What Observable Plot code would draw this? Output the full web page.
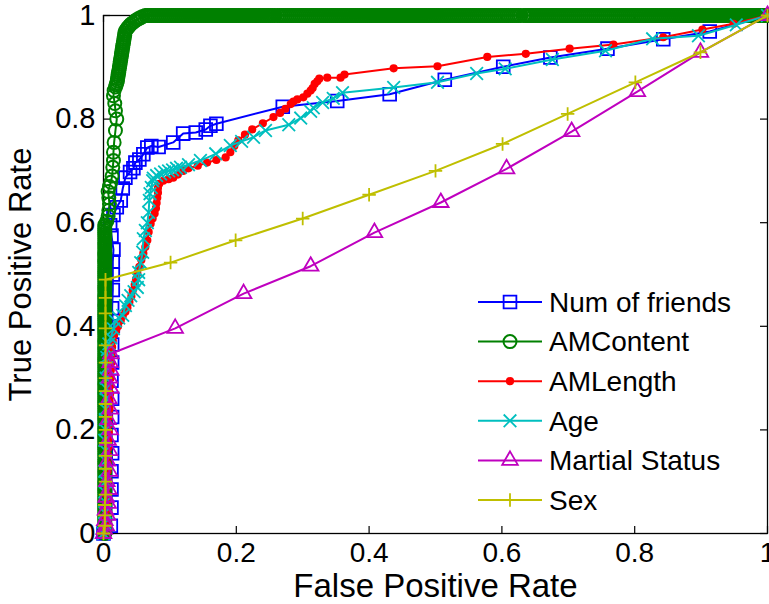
<!DOCTYPE html>
<html><head><meta charset="utf-8">
<script src="https://cdn.jsdelivr.net/npm/d3@7"></script>
<script src="https://cdn.jsdelivr.net/npm/@observablehq/plot@0.6"></script>
<style>
body{margin:0;background:#fff;}
#chart{position:relative;width:769px;height:604px;}
#chart svg text{font-family:"Liberation Sans",Arial,Helvetica,sans-serif;}
#chart g[aria-label="x-axis label"]{font-size:33px;}
#chart g[aria-label="y-axis label"]{font-size:31px;}
#chart g[aria-label="y-axis tick label"]{font-size:29px;}
#legend{position:absolute;left:470px;top:280px;}
</style></head>
<body><div id="chart"></div>
<script>
// ---- data (fpr, tpr) ----
const seriesNames = ["Num of friends","AMContent","AMLength","Age","Martial Status","Sex"];
const xTicks = [0,0.2,0.4,0.6,0.8,1];
const yTicks = [0,0.2,0.4,0.6,0.8,1];
const tickLabels = ["0","0.2","0.4","0.6","0.8","1"];
const axisTitleX = "False Positive Rate";
const axisTitleY = "True Positive Rate";

const friendsRoc = [[0,0],[0.011,0.015],[0.012,0.05],[0.012,0.085],[0.012,0.12],[0.013,0.155],[0.012,0.19],[0.013,0.225],[0.013,0.26],[0.012,0.295],[0.013,0.33],[0.013,0.365],[0.014,0.40],[0.013,0.435],[0.014,0.47],[0.014,0.50],[0.014,0.525],[0.015,0.548],[0.012,0.575],[0.01,0.595],[0.015,0.615],[0.02,0.63],[0.026,0.643],[0.029,0.666],[0.033,0.687],[0.04,0.698],[0.045,0.705],[0.048,0.716],[0.054,0.722],[0.06,0.732],[0.066,0.745],[0.072,0.748],[0.083,0.746],[0.105,0.755],[0.12,0.772],[0.139,0.774],[0.154,0.78],[0.161,0.787],[0.17,0.791],[0.27,0.824],[0.352,0.835],[0.431,0.848],[0.514,0.876],[0.602,0.901],[0.673,0.919],[0.759,0.936],[0.843,0.954],[0.913,0.969],[1,1]];

// AMContent: first vertical run (constant fpr), then the rest, then the run at tpr = 1
const amContentRunFpr = 0.002;
const amContentRunTpr = [0,0.004,0.007,0.011,0.015,0.018,0.022,0.026,0.03,0.033,0.037,0.041,0.045,0.049,0.052,0.056,0.06,0.064,0.067,0.071,0.075,0.079,0.083,0.086,0.09,0.094,0.098,0.101,0.105,0.109,0.113,0.117,0.12,0.124,0.128,0.132,0.135,0.139,0.143,0.147,0.151,0.154,0.158,0.162,0.166,0.169,0.173,0.177,0.181,0.185,0.188,0.192,0.196,0.2,0.203,0.207,0.211,0.215,0.219,0.222,0.226,0.23,0.234,0.237,0.241,0.245,0.249,0.253,0.256,0.26,0.264,0.268,0.271,0.275,0.279,0.283,0.287,0.29,0.294,0.298,0.302,0.305,0.309,0.313,0.317,0.321,0.324,0.328,0.332,0.336,0.339,0.343,0.347,0.351,0.355,0.358,0.362,0.366,0.37,0.373,0.377,0.381,0.385,0.389,0.392,0.396,0.4,0.404,0.407,0.411,0.415,0.419,0.423,0.426,0.43,0.434,0.438,0.441,0.445,0.449,0.453,0.457,0.46,0.464,0.468,0.472,0.475,0.479,0.483,0.487,0.491,0.494,0.498,0.502,0.506,0.509,0.513,0.517,0.521,0.525,0.528,0.532,0.536,0.54,0.543,0.547,0.551,0.555,0.559,0.562,0.566,0.57,0.574,0.577,0.581,0.585,0.589,0.593,0.596];
const amContentMid = [[0.005,0.603],[0.007,0.613],[0.008,0.624],[0.009,0.636],[0.008,0.648],[0.007,0.66],[0.009,0.67],[0.011,0.678],[0.013,0.69],[0.014,0.707],[0.015,0.72],[0.015,0.736],[0.016,0.755],[0.018,0.778],[0.02,0.80],[0.018,0.816],[0.017,0.83],[0.015,0.845],[0.016,0.855],[0.018,0.862],
 [0.019,0.866],[0.02,0.87],[0.021,0.874],[0.021,0.878],[0.022,0.882],[0.022,0.886],[0.023,0.89],[0.023,0.894],[0.024,0.898],[0.024,0.902],[0.025,0.906],[0.025,0.91],[0.026,0.914],[0.026,0.918],[0.027,0.922],[0.027,0.926],[0.028,0.93],[0.028,0.934],[0.029,0.938],[0.029,0.942],[0.03,0.946],[0.03,0.95],[0.031,0.954],[0.031,0.958],[0.032,0.962],[0.032,0.966],[0.033,0.97],[0.035,0.974],[0.037,0.977],[0.039,0.98],[0.041,0.983],[0.044,0.986],[0.047,0.989],[0.05,0.992],[0.053,0.994],[0.056,0.996],[0.059,0.998],[0.063,1]];
const amContentTopFpr = [0.066,0.069,0.072,0.075,0.078,0.081,0.084,0.087,0.09,0.093,0.096,0.099,0.102,0.105,0.108,0.111,0.114,0.117,0.12,0.123,0.126,0.129,0.132,0.135,0.138,0.141,0.144,0.147,0.15,0.153,0.156,0.159,0.162,0.165,0.168,0.171,0.174,0.177,0.18,0.183,0.186,0.189,0.192,0.195,0.198,0.201,0.204,0.207,0.21,0.213,0.216,0.219,0.222,0.225,0.228,0.231,0.234,0.237,0.24,0.243,0.246,0.249,0.252,0.255,0.258,0.262,0.265,0.268,0.271,0.274,0.277,0.28,0.283,0.286,0.289,0.292,0.295,0.298,0.301,0.304,0.307,0.31,0.313,0.316,0.319,0.322,0.325,0.328,0.331,0.334,0.337,0.34,0.343,0.346,0.349,0.352,0.355,0.358,0.361,0.364,0.367,0.37,0.373,0.376,0.379,0.382,0.385,0.388,0.391,0.394,0.397,0.4,0.403,0.406,0.409,0.412,0.415,0.418,0.421,0.424,0.427,0.43,0.433,0.436,0.439,0.442,0.445,0.448,0.451,0.454,0.457,0.46,0.463,0.466,0.469,0.472,0.475,0.478,0.481,0.484,0.487,0.49,0.493,0.496,0.499,0.502,0.505,0.508,0.511,0.514,0.517,0.52,0.523,0.526,0.529,0.532,0.535,0.538,0.541,0.544,0.547,0.55,0.553,0.556,0.559,0.562,0.565,0.568,0.571,0.574,0.577,0.58,0.583,0.586,0.589,0.592,0.595,0.598,0.601,0.604,0.607,0.61,0.613,0.616,0.619,0.622,0.625,0.628,0.633,0.636,0.639,0.642,0.645,0.648,0.651,0.654,0.657,0.66,0.663,0.666,0.669,0.672,0.675,0.678,0.681,0.684,0.687,0.69,0.693,0.696,0.699,0.702,0.705,0.708,0.711,0.714,0.717,0.72,0.723,0.726,0.729,0.732,0.735,0.738,0.741,0.744,0.747,0.75,0.753,0.756,0.759,0.762,0.765,0.768,0.771,0.774,0.777,0.78,0.783,0.786,0.789,0.792,0.795,0.798,0.801,0.804,0.807,0.81,0.813,0.816,0.819,0.822,0.825,0.828,0.831,0.834,0.837,0.84,0.843,0.846,0.849,0.852,0.855,0.858,0.861,0.864,0.867,0.87,0.873,0.876,0.879,0.882,0.885,0.888,0.891,0.894,0.897,0.9,0.903,0.906,0.909,0.912,0.915,0.918,0.921,0.924,0.927,0.93,0.933,0.936,0.939,0.942,0.945,0.948,0.951,0.954,0.957,0.96,0.963,0.966,0.969,0.972,0.975,0.978,0.981,0.984,0.987,0.99,0.993,0.996,1];

const amLengthRoc = [[0,0],[0.003,0.015],[0.004,0.03],[0.004,0.045],[0.005,0.06],[0.005,0.075],[0.005,0.09],[0.006,0.105],[0.006,0.12],[0.006,0.135],[0.007,0.15],[0.007,0.165],[0.007,0.18],[0.008,0.195],[0.008,0.21],[0.008,0.225],[0.009,0.24],[0.009,0.255],[0.01,0.27],[0.01,0.285],[0.011,0.3],[0.011,0.315],[0.012,0.33],[0.012,0.345],[0.013,0.36],[0.014,0.372],[0.016,0.383],[0.019,0.392],[0.022,0.40],[0.026,0.411],[0.029,0.42],[0.033,0.428],[0.036,0.436],[0.039,0.447],[0.042,0.458],[0.044,0.469],[0.047,0.48],[0.049,0.491],[0.051,0.502],[0.054,0.515],[0.057,0.528],[0.06,0.541],[0.063,0.553],[0.066,0.566],[0.068,0.582],[0.071,0.598],[0.074,0.608],[0.077,0.618],[0.079,0.628],[0.08,0.638],[0.081,0.648],[0.082,0.658],[0.082,0.667],[0.084,0.675],[0.09,0.681],[0.098,0.684],[0.105,0.687],[0.112,0.693],[0.12,0.70],[0.128,0.705],[0.142,0.71],[0.156,0.716],[0.17,0.721],[0.184,0.726],[0.191,0.736],[0.197,0.748],[0.203,0.759],[0.213,0.77],[0.224,0.78],[0.24,0.792],[0.256,0.804],[0.266,0.812],[0.274,0.82],[0.282,0.829],[0.286,0.834],[0.292,0.838],[0.301,0.842],[0.307,0.849],[0.312,0.855],[0.315,0.86],[0.318,0.868],[0.322,0.873],[0.325,0.878],[0.337,0.88],[0.357,0.88],[0.363,0.886],[0.437,0.898],[0.503,0.902],[0.578,0.92],[0.636,0.926],[0.702,0.936],[0.768,0.944],[0.843,0.958],[0.902,0.973],[0.949,0.984],[1,1]];

const ageRoc = [[0,0],[0.002,0.02],[0.002,0.04],[0.003,0.06],[0.002,0.08],[0.003,0.1],[0.002,0.12],[0.003,0.14],[0.003,0.16],[0.002,0.18],[0.003,0.2],[0.003,0.22],[0.003,0.24],[0.004,0.26],[0.004,0.28],[0.004,0.3],[0.005,0.32],[0.005,0.34],[0.006,0.355],[0.008,0.366],[0.011,0.378],[0.015,0.395],[0.018,0.41],[0.023,0.416],[0.029,0.421],[0.033,0.44],[0.037,0.45],[0.041,0.459],[0.046,0.467],[0.051,0.475],[0.053,0.49],[0.053,0.504],[0.056,0.523],[0.059,0.543],[0.06,0.569],[0.063,0.585],[0.066,0.60],[0.068,0.62],[0.069,0.643],[0.07,0.656],[0.072,0.668],[0.074,0.681],[0.075,0.686],[0.08,0.691],[0.086,0.694],[0.092,0.698],[0.098,0.70],[0.104,0.702],[0.11,0.705],[0.116,0.707],[0.128,0.712],[0.146,0.72],[0.169,0.733],[0.191,0.749],[0.208,0.757],[0.226,0.765],[0.244,0.778],[0.279,0.789],[0.297,0.802],[0.312,0.815],[0.316,0.822],[0.33,0.832],[0.346,0.84],[0.36,0.851],[0.437,0.861],[0.503,0.871],[0.562,0.888],[0.605,0.897],[0.676,0.915],[0.756,0.932],[0.827,0.955],[0.896,0.961],[0.953,0.982],[1,1]];

const maritalRoc = [[0,0],[0.001,0.008],[0.004,0.015],[0.002,0.025],[0.006,0.035],[0.003,0.045],[0.007,0.058],[0.004,0.07],[0.008,0.085],[0.005,0.1],[0.009,0.12],[0.006,0.14],[0.009,0.16],[0.007,0.18],[0.01,0.2],[0.007,0.22],[0.01,0.24],[0.008,0.26],[0.011,0.28],[0.009,0.3],[0.011,0.315],[0.01,0.33],[0.011,0.347],[0.108,0.396],[0.211,0.463],[0.312,0.516],[0.408,0.581],[0.508,0.639],[0.607,0.704],[0.705,0.776],[0.804,0.853],[0.899,0.929],[1,1]];

const sexRoc = [[0,0],[0.002,0.015],[0.002,0.035],[0.002,0.055],[0.003,0.075],[0.003,0.1],[0.003,0.125],[0.003,0.15],[0.003,0.175],[0.003,0.2],[0.003,0.225],[0.003,0.25],[0.003,0.275],[0.003,0.3],[0.003,0.33],[0.003,0.363],[0.003,0.396],[0.003,0.425],[0.003,0.455],[0.003,0.49],[0.101,0.523],[0.199,0.566],[0.3,0.608],[0.4,0.654],[0.5,0.70],[0.601,0.752],[0.699,0.81],[0.801,0.871],[0.899,0.929],[1,1]];

// ---- styles ----
const styles = [
  {color:"#0000ff", symbol:"square", r:7.2, filled:false, sw:1.8},
  {color:"#008000", symbol:"circle", r:6.5, filled:false, sw:2},
  {color:"#ff0000", symbol:"circle", r:3.2, filled:true, sw:1.8},
  {color:"#00bfbf", symbol:"times", r:5.8, filled:false, sw:1.8},
  {color:"#bf00bf", symbol:"triangle", r:5.8, filled:false, sw:1.8},
  {color:"#bfbf00", symbol:"plus", r:4.4, filled:false, sw:1.8}
];
const amContentRoc = amContentRunTpr.map(t => [amContentRunFpr, t])
  .concat(amContentMid, amContentTopFpr.map(f => [f, 1]));
const seriesData = [friendsRoc, amContentRoc, amLengthRoc, ageRoc, maritalRoc, sexRoc];

const W = 769, H = 604, mL = 103, mR = 2, mT = 15, mB = 71;
const innerW = W - mL - mR, innerH = H - mT - mB, tick = 7;

const marks = [
  Plot.frame({stroke:"black", strokeWidth:1.3}),
  Plot.tickX(xTicks, {x:d=>d, insetTop:innerH-tick, stroke:"black", strokeWidth:1.2}),
  Plot.tickX(xTicks, {x:d=>d, insetBottom:innerH-tick, stroke:"black", strokeWidth:1.2}),
  Plot.tickY(yTicks, {y:d=>d, insetRight:innerW-tick, stroke:"black", strokeWidth:1.2}),
  Plot.tickY(yTicks, {y:d=>d, insetLeft:innerW-tick, stroke:"black", strokeWidth:1.2}),
  Plot.axisX({ticks:xTicks, tickSize:0, tickPadding:9, tickFormat:d => tickLabels[xTicks.indexOf(d)], label:axisTitleX, labelAnchor:"center", labelArrow:"none", labelOffset:63}),
  Plot.axisY({ticks:yTicks, tickSize:0, tickPadding:8, tickFormat:d => tickLabels[yTicks.indexOf(d)], label:axisTitleY, labelAnchor:"center", labelArrow:"none", labelOffset:95})
];
seriesData.forEach((data, i) => {
  const s = styles[i];
  marks.push(Plot.line(data, {x:d=>d[0], y:d=>d[1], stroke:s.color, strokeWidth:2}));
  marks.push(Plot.dot(data, {x:d=>d[0], y:d=>d[1], symbol:s.symbol, r:s.r,
    stroke:s.color, fill:s.filled ? s.color : "none", strokeWidth:s.sw}));
});

const chart = Plot.plot({
  width:W, height:H, marginLeft:mL, marginRight:mR, marginTop:mT, marginBottom:mB,
  x:{domain:[0,1]}, y:{domain:[0,1]},
  style:{fontFamily:'"Liberation Sans", Arial, sans-serif', fontSize:"28px", color:"black", background:"white", overflow:"visible"},
  marks
});
const root = document.getElementById("chart");
root.appendChild(chart);

// ---- legend (overlay) ----
const symMap = {square:d3.symbolSquare, circle:d3.symbolCircle, times:d3.symbolTimes, triangle:d3.symbolTriangle, plus:d3.symbolPlus};
const lg = d3.select(root).append("svg").attr("id","legend").attr("width",299).attr("height",250);
seriesNames.forEach((name, i) => {
  const s = styles[i];
  const y = 22 + i * 39.6;
  const g = lg.append("g").attr("transform", `translate(0,${y})`);
  g.append("line").attr("x1",8).attr("x2",72).attr("y1",0).attr("y2",0).attr("stroke",s.color).attr("stroke-width",2);
  g.append("path").attr("transform","translate(40,0)")
    .attr("d", d3.symbol(symMap[s.symbol], Math.PI * s.r * s.r)())
    .attr("stroke", s.color).attr("stroke-width",s.sw).attr("fill", s.filled ? s.color : "none");
  g.append("text").attr("x",79).attr("y",0).attr("dy","0.35em")
    .attr("font-family",'"Liberation Sans", Arial, sans-serif').attr("font-size",28).attr("fill","black").text(name);
});
</script></body></html>
